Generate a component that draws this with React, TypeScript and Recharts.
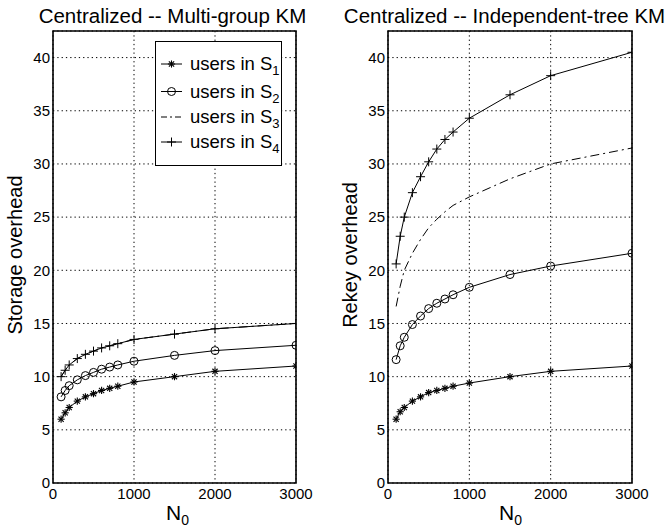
import { CartesianGrid, Line, LineChart, ReferenceArea, XAxis, YAxis } from "recharts";

// Group sizes N0 sampled in both panels
const N0 = [100, 150, 200, 300, 400, 500, 600, 700, 800, 1000, 1500, 2000, 3000];

// Left panel: storage overhead (multi-group KM)
const storageS1 = [6, 6.6, 7.1, 7.7, 8.1, 8.4, 8.7, 8.9, 9.1, 9.5, 10, 10.5, 11];
const storageS2 = [8.1, 8.7, 9.15, 9.7, 10.1, 10.4, 10.7, 10.9, 11.1, 11.45, 12, 12.45, 12.95];
const storageS3 = [10, 10.6, 11.1, 11.7, 12.1, 12.4, 12.7, 12.9, 13.1, 13.5, 14, 14.5, 15];
const storageS4 = [10, 10.6, 11.1, 11.7, 12.1, 12.4, 12.7, 12.9, 13.1, 13.5, 14, 14.5, 15];

// Right panel: rekey overhead (independent-tree KM)
const rekeyS1 = [6, 6.7, 7.1, 7.7, 8.1, 8.5, 8.7, 8.9, 9.1, 9.4, 10, 10.5, 11];
const rekeyS2 = [11.6, 12.9, 13.7, 14.9, 15.7, 16.4, 16.9, 17.3, 17.7, 18.4, 19.6, 20.4, 21.6];
const rekeyS3 = [16.6, 18.5, 20, 21.6, 22.9, 24, 24.8, 25.5, 26.1, 26.9, 28.6, 30, 31.5];
const rekeyS4 = [20.6, 23.2, 25, 27.3, 28.8, 30.2, 31.4, 32.3, 33, 34.3, 36.5, 38.3, 40.5];

const X_TICKS = [0, 1000, 2000, 3000];
const Y_TICKS = [0, 5, 10, 15, 20, 25, 30, 35, 40];
const LEGEND_SUBS = ["1", "2", "3", "4"];

const FONT = "'Liberation Sans', Arial, Helvetica, sans-serif";
const Y_MAX = 42.5;

function zip(s1: number[], s2: number[], s3: number[], s4: number[]) {
  return N0.map((n, i) => ({ n, s1: s1[i], s2: s2[i], s3: s3[i], s4: s4[i] }));
}

const storageData = zip(storageS1, storageS2, storageS3, storageS4);
const rekeyData = zip(rekeyS1, rekeyS2, rekeyS3, rekeyS4);

function Star({ cx, cy }: { cx: number; cy: number }) {
  const r = 3.6;
  const d = r * 0.72;
  return (
    <g stroke="#000" strokeWidth={1.1}>
      <line x1={cx - r} y1={cy} x2={cx + r} y2={cy} />
      <line x1={cx} y1={cy - r} x2={cx} y2={cy + r} />
      <line x1={cx - d} y1={cy - d} x2={cx + d} y2={cy + d} />
      <line x1={cx - d} y1={cy + d} x2={cx + d} y2={cy - d} />
    </g>
  );
}

function Plus({ cx, cy }: { cx: number; cy: number }) {
  const r = 4.5;
  return (
    <g stroke="#000" strokeWidth={1}>
      <line x1={cx - r} y1={cy} x2={cx + r} y2={cy} />
      <line x1={cx} y1={cy - r} x2={cx} y2={cy + r} />
    </g>
  );
}

function Ring({ cx, cy }: { cx: number; cy: number }) {
  return <circle cx={cx} cy={cy} r={4} fill="none" stroke="#000" strokeWidth={1} />;
}

const starDot = (p: any) => <Star key={`a${p.index}`} cx={p.cx} cy={p.cy} />;
const ringDot = (p: any) => <Ring key={`o${p.index}`} cx={p.cx} cy={p.cy} />;
const plusDot = (p: any) => <Plus key={`p${p.index}`} cx={p.cx} cy={p.cy} />;

const TICK_STYLE = { fill: "#000", fontSize: 15, fontFamily: FONT };

function Panel({ data, yWidth, right }: { data: typeof storageData; yWidth: number; right: number }) {
  return (
    <LineChart width={333} height={527} data={data} margin={{ top: 31, right, bottom: 0, left: 0 }}>
      <CartesianGrid stroke="#000" strokeDasharray="1.3 3" strokeWidth={1} />
      <XAxis
        dataKey="n"
        type="number"
        domain={[0, 3000]}
        ticks={X_TICKS}
        height={44}
        tickLine={false}
        axisLine={false}
        tickSize={0}
        tickMargin={5}
        tick={TICK_STYLE}
        allowDataOverflow
      />
      <YAxis
        type="number"
        domain={[0, Y_MAX]}
        ticks={Y_TICKS}
        width={yWidth}
        tickLine={false}
        axisLine={false}
        tickSize={0}
        tickMargin={3}
        tick={TICK_STYLE}
        allowDataOverflow
      />
      <ReferenceArea x1={0} x2={3000} y1={0} y2={Y_MAX} fill="none" stroke="#000" strokeWidth={1.6} ifOverflow="visible" />
      <Line dataKey="s3" type="linear" stroke="#000" strokeWidth={1} strokeDasharray="9 4 2 4" dot={false} isAnimationActive={false} />
      <Line dataKey="s1" type="linear" stroke="#000" strokeWidth={1} dot={starDot} isAnimationActive={false} />
      <Line dataKey="s2" type="linear" stroke="#000" strokeWidth={1} dot={ringDot} isAnimationActive={false} />
      <Line dataKey="s4" type="linear" stroke="#000" strokeWidth={1} dot={plusDot} isAnimationActive={false} />
    </LineChart>
  );
}

function LegendBox() {
  const rowY = [22, 49.5, 75, 100];
  return (
    <div
      style={{
        position: "absolute",
        left: 155,
        top: 41,
        width: 127,
        height: 125,
        boxSizing: "border-box",
        border: "1px solid #000",
        background: "#fff",
      }}
    >
      <svg width={127} height={125} style={{ position: "absolute", left: 0, top: 0 }}>
        {LEGEND_SUBS.map((sub, i) => {
          const y = rowY[i];
          return (
            <g key={sub}>
              <line
                x1={5}
                x2={26}
                y1={y}
                y2={y}
                stroke="#000"
                strokeWidth={1}
                strokeDasharray={i === 2 ? "6 3 2 3" : undefined}
              />
              {i === 0 && <Star cx={15.5} cy={y} />}
              {i === 1 && <Ring cx={15.5} cy={y} />}
              {i === 3 && <Plus cx={15.5} cy={y} />}
              <text x={34} y={y + 6} fontSize={18.5} fontFamily={FONT} fill="#000">
                users in S
                <tspan fontSize={13} dy={5}>
                  {sub}
                </tspan>
              </text>
            </g>
          );
        })}
      </svg>
    </div>
  );
}

function Labels() {
  return (
    <svg width={666} height={527} style={{ position: "absolute", left: 0, top: 0, pointerEvents: "none" }}>
      <g fontFamily={FONT} fill="#000">
        <text x={172.5} y={22.5} fontSize={20.5} textAnchor="middle">
          Centralized -- Multi-group KM
        </text>
        <text x={504.5} y={22.5} fontSize={20.5} textAnchor="middle">
          Centralized -- Independent-tree KM
        </text>
        <text x={22} y={255} fontSize={20} textAnchor="middle" transform="rotate(-90 22 255)">
          Storage overhead
        </text>
        <text x={357} y={255} fontSize={20} textAnchor="middle" transform="rotate(-90 357 255)">
          Rekey overhead
        </text>
        <text x={166} y={520} fontSize={21}>
          N<tspan fontSize={14} dy={5}>0</tspan>
        </text>
        <text x={499} y={520} fontSize={21}>
          N<tspan fontSize={14} dy={5}>0</tspan>
        </text>
      </g>
    </svg>
  );
}

export default function App() {
  return (
    <div style={{ position: "absolute", left: 0, top: 0, width: 666, height: 527, background: "#fff" }}>
      <div style={{ position: "absolute", left: 0, top: 0 }}>
        <Panel data={storageData} yWidth={53} right={37} />
      </div>
      <div style={{ position: "absolute", left: 333, top: 0 }}>
        <Panel data={rekeyData} yWidth={55} right={34} />
      </div>
      <LegendBox />
      <Labels />
    </div>
  );
}
